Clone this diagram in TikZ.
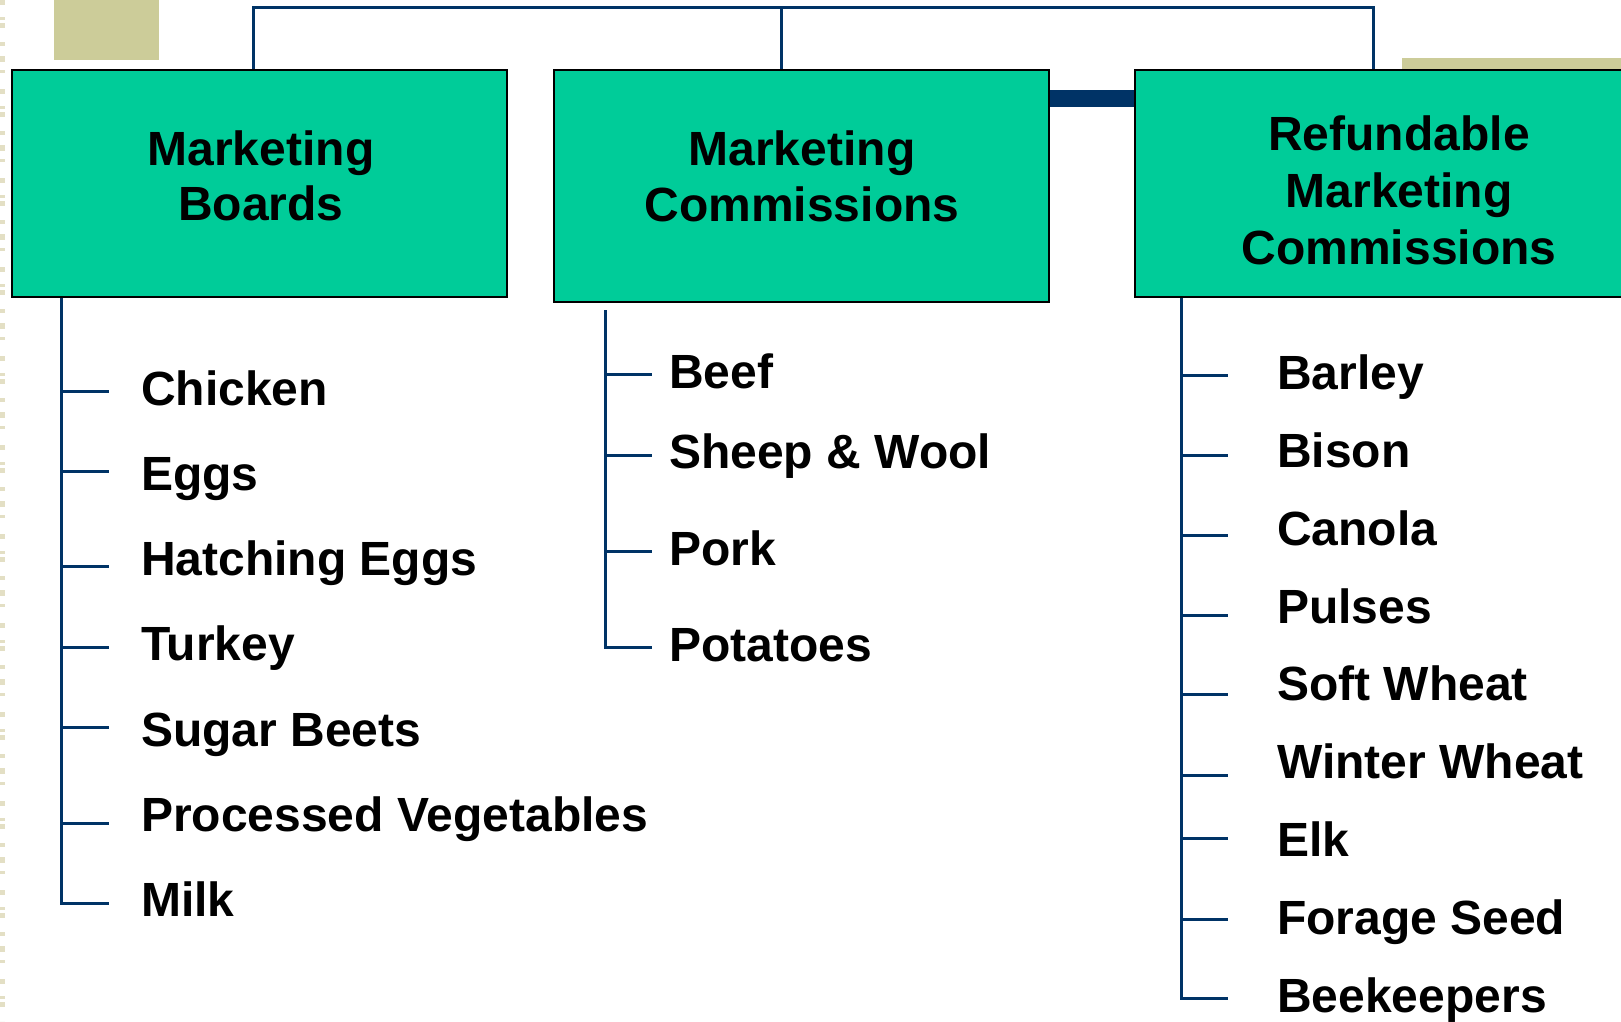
\documentclass[tikz,border=0pt]{standalone}
\usepackage{fontspec}
\setmainfont{Liberation Sans}
\definecolor{boxgreen}{RGB}{0,204,153}
\definecolor{navy}{RGB}{0,51,102}
\definecolor{tanbox}{RGB}{204,204,153}
\definecolor{lighttan}{RGB}{227,223,196}
\begin{document}
\begin{tikzpicture}[x=1pt,y=-1pt,
  catbox/.style={draw=black,line width=2.5pt,fill=boxgreen,inner sep=0pt,minimum width=495pt},
  link/.style={draw=navy,line width=3pt},
  item/.style={anchor=base west,inner sep=0pt,font=\fontsize{48}{56}\selectfont\bfseries},
  head/.style={anchor=base,inner sep=0pt,font=\fontsize{48}{56}\selectfont\bfseries}]
\useasboundingbox (0,0) rectangle (1621,1021);
\clip (0,0) rectangle (1621,1021);
% decorations
\fill[white] (0,0) rectangle (1621,1021);
\draw[lighttan,line width=5pt,dash pattern=on 5pt off 12pt on 3pt off 3pt on 5pt off 14pt on 4pt off 10pt on 6pt off 8pt on 3pt off 16pt] (2.5,0) -- (2.5,1021);
\fill[tanbox] (54,0) rectangle (159,60);
\fill[tanbox] (1402,58) rectangle (1621,72);
% anchor boxes (for geometry)
\node[catbox,minimum height=227pt] (box1) at (259.5,183.5) {};
\node[catbox,minimum height=232pt] (box2) at (801.5,186) {};
\node[catbox,minimum height=227pt] (box3) at (1382.5,183.5) {};
% top connector
\coordinate (t1) at (253,7);
\coordinate (t2) at (781,7);
\coordinate (t3) at (1373,7);
\coordinate (bar) at (0,98.5);
\draw[link,line join=miter] (t1 |- box1.north) -- (t1) -- (t3) -- (t3 |- box3.north);
\draw[link] (t2) -- (t2 |- box2.north);
\draw[navy,line width=17pt] (box2.west |- bar) -- (box3.west |- bar);
% boxes on top of connectors
\node[catbox,minimum height=227pt] (box1b) at (259.5,183.5) {};
\node[catbox,minimum height=232pt] (box2b) at (801.5,186) {};
\node[catbox,minimum height=227pt] (box3b) at (1382.5,183.5) {};
% headings
\node[head] (h1a) at (261,165) {Marketing};
\node[head] (h1b) at (261,220) {Boards};
\node[head] (h2a) at (802,165) {Marketing};
\node[head] (h2b) at (802,221) {Commissions};
\node[head] (h3a) at (1399,150) {Refundable};
\node[head] (h3b) at (1399,207) {Marketing};
\node[head] (h3c) at (1399,264) {Commissions};
% left list
\coordinate (la) at (61,0);
\foreach \y/\b/\t [count=\i] in {391/405/Chicken, 471/490.3/Eggs, 566.5/575.6/Hatching Eggs, 647/660.9/Turkey, 727/746.2/Sugar Beets, 823/831.5/Processed Vegetables, 903.5/916.8/Milk} {
  \coordinate (a\i) at (109,\y);
  \node[item] (ta\i) at (141,\b) {\t};
  \draw[link] (a\i -| la) -- (a\i);
}
\draw[link,line join=miter] (la |- box1.south) -- (la |- a7) -- (a7);
% middle list
\coordinate (ma) at (605,0);
\coordinate (mtop) at (605,310);
\foreach \y/\b/\t [count=\i] in {374/388/Beef, 455/468/Sheep \& Wool, 551/565/Pork, 647/661/Potatoes} {
  \coordinate (m\i) at (652,\y);
  \node[item] (tm\i) at (669,\b) {\t};
  \draw[link] (m\i -| ma) -- (m\i);
}
\draw[link,line join=miter] (mtop) -- (ma |- m4) -- (m4);
% right list
\coordinate (ra) at (1181.7,0);
\foreach \y/\b/\t [count=\i] in {375.3/389.3/Barley, 455/467.2/Bison, 535.5/545.1/Canola, 615/623/Pulses, 694.7/700.9/Soft Wheat, 775.3/778.8/Winter Wheat, 838.4/856.7/Elk, 919/934.6/Forage Seed, 998.6/1012.6/Beekeepers} {
  \coordinate (r\i) at (1228,\y);
  \node[item] (tr\i) at (1277,\b) {\t};
  \draw[link] (r\i -| ra) -- (r\i);
}
\draw[link,line join=miter] (ra |- box3.south) -- (ra |- r9) -- (r9);
\end{tikzpicture}
\end{document}
